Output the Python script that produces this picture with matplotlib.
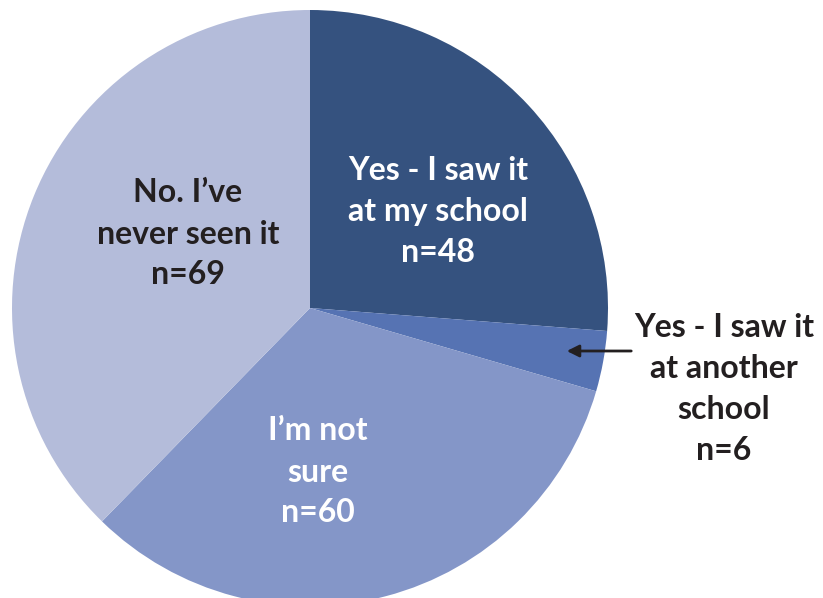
import matplotlib.pyplot as plt

plt.rcParams['font.family'] = ['Lato', 'DejaVu Sans']

# survey responses
labels = ['Yes - I saw it\nat my school', 'Yes - I saw it\nat another\nschool', 'I\u2019m not\nsure', 'No. I\u2019ve\nnever seen it']
counts = [48, 6, 60, 69]
colors = ['#35527F', '#5673B3', '#8496C8', '#B4BCDA']
text_colors = ['white', '#231F20', 'white', '#231F20']

fig = plt.figure(figsize=(8.23, 5.98), dpi=100)
ax = fig.add_axes([0, 0, 1, 1])

cx, cy, r = 310, 598 - 308, 298
ax.pie(counts, colors=colors, startangle=90, counterclock=False,
       center=(cx, cy), radius=r, frame=True,
       wedgeprops=dict(linewidth=0))
ax.set_xlim(0, 823)
ax.set_ylim(0, 598)
ax.set_aspect('equal')
ax.axis('off')

# label positions in pixel coords (x, y from top)
label_pos = [(438, 212), (724, 389), (318, 472), (188, 234)]
for lab, n, (x, y), tc in zip(labels, counts, label_pos, text_colors):
    ax.text(x, 598 - y, lab + '\nn=%d' % n, ha='center', va='center',
            fontsize=23, fontweight='bold', color=tc, linespacing=1.5)

ax.annotate('', xy=(564, 598 - 351), xytext=(634, 598 - 351),
            arrowprops=dict(arrowstyle='-|>', color='#231F20', lw=2,
                            mutation_scale=18))

fig.savefig('out.png', dpi=100)
